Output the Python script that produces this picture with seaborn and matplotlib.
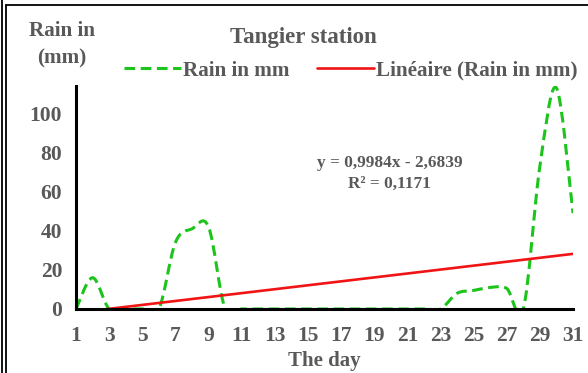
import numpy as np
import pandas as pd
import seaborn as sns
import matplotlib.pyplot as plt
from matplotlib.path import Path
from matplotlib.patches import PathPatch
from matplotlib.lines import Line2D

days = list(range(1, 32))
rain = [0, 16, 0, 0, 0, 0, 34, 41, 42, 0,
        0, 0, 0, 0, 0, 0, 0, 0, 0, 0,
        0, 0, 0, 8, 9.5, 11, 10.5, 0, 73, 113,
        49]
xticks = list(range(1, 32, 2))
equation = "y = 0,9984x - 2,6839"
r_squared = "R² = 0,1171"

GREEN = "#1CC41C"
RED = "#F01414"
GREY = "#595959"


def smooth_path(x, y):
    # excel style smoothed line: bezier segments, catmull-rom control points
    x = np.asarray(x, float)
    y = np.asarray(y, float)
    verts = [(x[0], y[0])]
    codes = [Path.MOVETO]
    n = len(x)
    for i in range(n - 1):
        i0 = max(i - 1, 0)
        i3 = min(i + 2, n - 1)
        c1 = (x[i] + (x[i + 1] - x[i0]) / 6, y[i] + (y[i + 1] - y[i0]) / 6)
        c2 = (x[i + 1] - (x[i3] - x[i]) / 6, y[i + 1] - (y[i3] - y[i]) / 6)
        verts += [c1, c2, (x[i + 1], y[i + 1])]
        codes += [Path.CURVE4] * 3
    return Path(verts, codes)


def main():
    df = pd.DataFrame({'day': days, 'rain': rain})

    sns.set_style("white")
    plt.rcParams['font.family'] = ['Liberation Serif', 'DejaVu Serif']
    plt.rcParams['font.weight'] = 'bold'

    fig = plt.figure(figsize=(5.88, 3.73), dpi=100)
    ax = fig.add_axes([0.1293, 0.1716, 0.8452, 0.5978])

    dash = (0, (3.5, 1.8))
    patch = PathPatch(smooth_path(df['day'], df['rain']), fill=False,
                      edgecolor=GREEN, lw=2.2, linestyle=dash,
                      transform=ax.transData)
    ax.add_patch(patch)

    sns.regplot(data=df, x='day', y='rain', scatter=False, ci=None,
                truncate=True, ax=ax, line_kws={'color': RED, 'lw': 1.9})

    ax.set_xlim(1, 31)
    ax.set_ylim(0, 114)
    ax.set_xticks(xticks)
    ax.set_yticks([0, 20, 40, 60, 80, 100])
    ax.set_xlabel('The day', fontsize=15, color=GREY, fontweight='bold', labelpad=4)
    ax.set_ylabel('')
    ax.tick_params(axis='both', colors='black', labelcolor=GREY, labelsize=15.5,
                   direction='out', length=5, width=1.6, pad=7)
    ax.tick_params(axis='y', pad=5)
    for lab in ax.get_xticklabels() + ax.get_yticklabels():
        lab.set_fontweight('bold')
    for s in ['top', 'right']:
        ax.spines[s].set_visible(False)
    for s in ['left', 'bottom']:
        ax.spines[s].set_color('black')
        ax.spines[s].set_linewidth(2.2)

    fig.text(0.516, 0.9, 'Tangier station', ha='center', va='center',
             fontsize=16.5, color=GREY, fontweight='bold')
    fig.text(0.105, 0.88, 'Rain in\n(mm)', ha='center', va='center',
             fontsize=15.2, color=GREY, fontweight='bold', linespacing=1.45)

    handles = [Line2D([], [], color=GREEN, lw=2.2, linestyle=dash),
               Line2D([], [], color=RED, lw=1.9)]
    leg = fig.legend(handles, ['Rain in mm', 'Linéaire (Rain in mm)'],
                     loc='center', bbox_to_anchor=(0.597, 0.81), ncol=2,
                     frameon=False, handlelength=2.7, handletextpad=0.1,
                     columnspacing=1.3, prop={'size': 15.2, 'weight': 'bold'})
    for t in leg.get_texts():
        t.set_color(GREY)

    fig.text(0.663, 0.563, equation, ha='center', va='center', fontsize=12.4,
             color=GREY, fontweight='bold')
    fig.text(0.663, 0.507, r_squared, ha='center', va='center', fontsize=12.4,
             color=GREY, fontweight='bold')

    # chart frame
    fig.add_artist(Line2D([0.011, 0.011], [0.0, 0.987], color='black', lw=1.3,
                          transform=fig.transFigure))
    fig.add_artist(Line2D([0.011, 1.0], [0.987, 0.987], color='black', lw=1.3,
                          transform=fig.transFigure))
    fig.add_artist(Line2D([0.003, 0.003], [0.0, 1.0], color='black', lw=1.3,
                          transform=fig.transFigure))

    fig.savefig('out.png', dpi=100)


if __name__ == '__main__':
    main()
